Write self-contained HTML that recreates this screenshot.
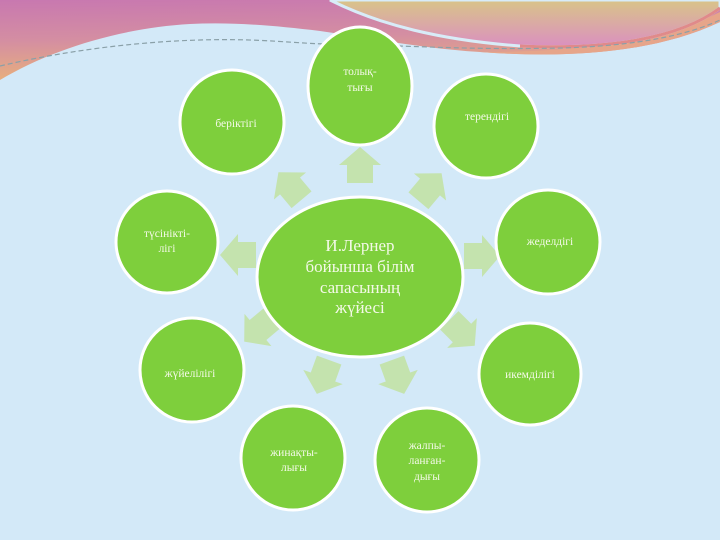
<!DOCTYPE html>
<html><head><meta charset="utf-8"><style>
html,body{margin:0;padding:0;width:720px;height:540px;overflow:hidden;background:#d3e9f8}
svg{display:block}
text{font-family:"Liberation Serif","DejaVu Serif",serif;fill:#f4f9e8}
</style></head><body>
<svg width="720" height="540" viewBox="0 0 720 540">
<defs>
<linearGradient id="pk" x1="0" y1="0" x2="0.15" y2="1"><stop offset="0" stop-color="#c878b0"/><stop offset="0.5" stop-color="#d48ea2"/><stop offset="1" stop-color="#e8b07c"/></linearGradient>
<linearGradient id="rt" x1="0" y1="0" x2="0" y2="1"><stop offset="0" stop-color="#d9c488"/><stop offset="1" stop-color="#da90c0"/></linearGradient>
<g id="ar"><polygon points="0,-18 21,0 13,0 13,18 -13,18 -13,0 -21,0" fill="#c4e3ae"/></g>
</defs>
<rect width="720" height="540" fill="#d3e9f8"/>
<!-- pink band full width -->
<path d="M0,0 L720,0 L720,22 C650,55 560,58 480,52 C420,48 370,38 320,31 C270,25 230,22 190,24 C120,28 50,50 0,80 Z" fill="url(#pk)"/>
<path d="M720,22 C650,55 560,58 480,52 C560,52 650,46 720,12Z" fill="#e6a58a"/>
<!-- right blob -->
<path d="M330,0 C380,25 440,40 520,46 C610,50 680,38 720,8 L720,0 Z" fill="url(#rt)" stroke="#d8ecf8" stroke-width="3"/>
<path d="M520,46 C610,50 680,38 720,8" fill="none" stroke="#e08a8a" stroke-width="3"/>
<path d="M0,66 C60,52 130,42 200,40 C260,38 300,44 330,44 C420,46 470,50 560,48 C640,46 690,34 720,20" fill="none" stroke="#8aa0a8" stroke-width="1.2" stroke-dasharray="5,3"/>
<!-- arrows -->
<g transform="translate(360,165)"><use href="#ar"/></g>
<g transform="translate(430,187) rotate(40)"><use href="#ar"/></g>
<g transform="translate(482,256) rotate(90)"><use href="#ar"/></g>
<g transform="translate(462,333) rotate(135)"><use href="#ar"/></g>
<g transform="translate(398,377) rotate(160)"><use href="#ar"/></g>
<g transform="translate(323,377) rotate(-160)"><use href="#ar"/></g>
<g transform="translate(258,330) rotate(-130)"><use href="#ar"/></g>
<g transform="translate(238,255) rotate(-90)"><use href="#ar"/></g>
<g transform="translate(290,186) rotate(-40)"><use href="#ar"/></g>
<g fill="#7ecf3c" stroke="#ffffff" stroke-width="3">
<ellipse cx="360" cy="277" rx="103" ry="80"/>
<ellipse cx="360" cy="86" rx="52" ry="59"/>
<circle cx="486" cy="126" r="52"/>
<circle cx="548" cy="242" r="52"/>
<circle cx="530" cy="374" r="51"/>
<circle cx="427" cy="460" r="52"/>
<circle cx="293" cy="458" r="52"/>
<circle cx="192" cy="370" r="52"/>
<circle cx="167" cy="242" r="51"/>
<circle cx="232" cy="122" r="52"/>
</g>
<g text-anchor="middle" font-size="11.5">
<text x="360" y="251" font-size="17">И.Лернер</text>
<text x="360" y="272" font-size="17">бойынша білім</text>
<text x="360" y="293" font-size="17">сапасының</text>
<text x="360" y="313" font-size="17">жүйесі</text>
<text x="360" y="75">толық-</text>
<text x="360" y="91">тығы</text>
<text x="487" y="120">терендігі</text>
<text x="550" y="245">жеделдігі</text>
<text x="530" y="378">икемділігі</text>
<text x="427" y="449">жалпы-</text>
<text x="427" y="464">ланған-</text>
<text x="427" y="480">дығы</text>
<text x="294" y="456">жинақты-</text>
<text x="294" y="471">лығы</text>
<text x="190" y="377">жүйелілігі</text>
<text x="167" y="237">түсінікті-</text>
<text x="167" y="252">лігі</text>
<text x="236" y="127">беріктігі</text>
</g>
</svg>
</body></html>
